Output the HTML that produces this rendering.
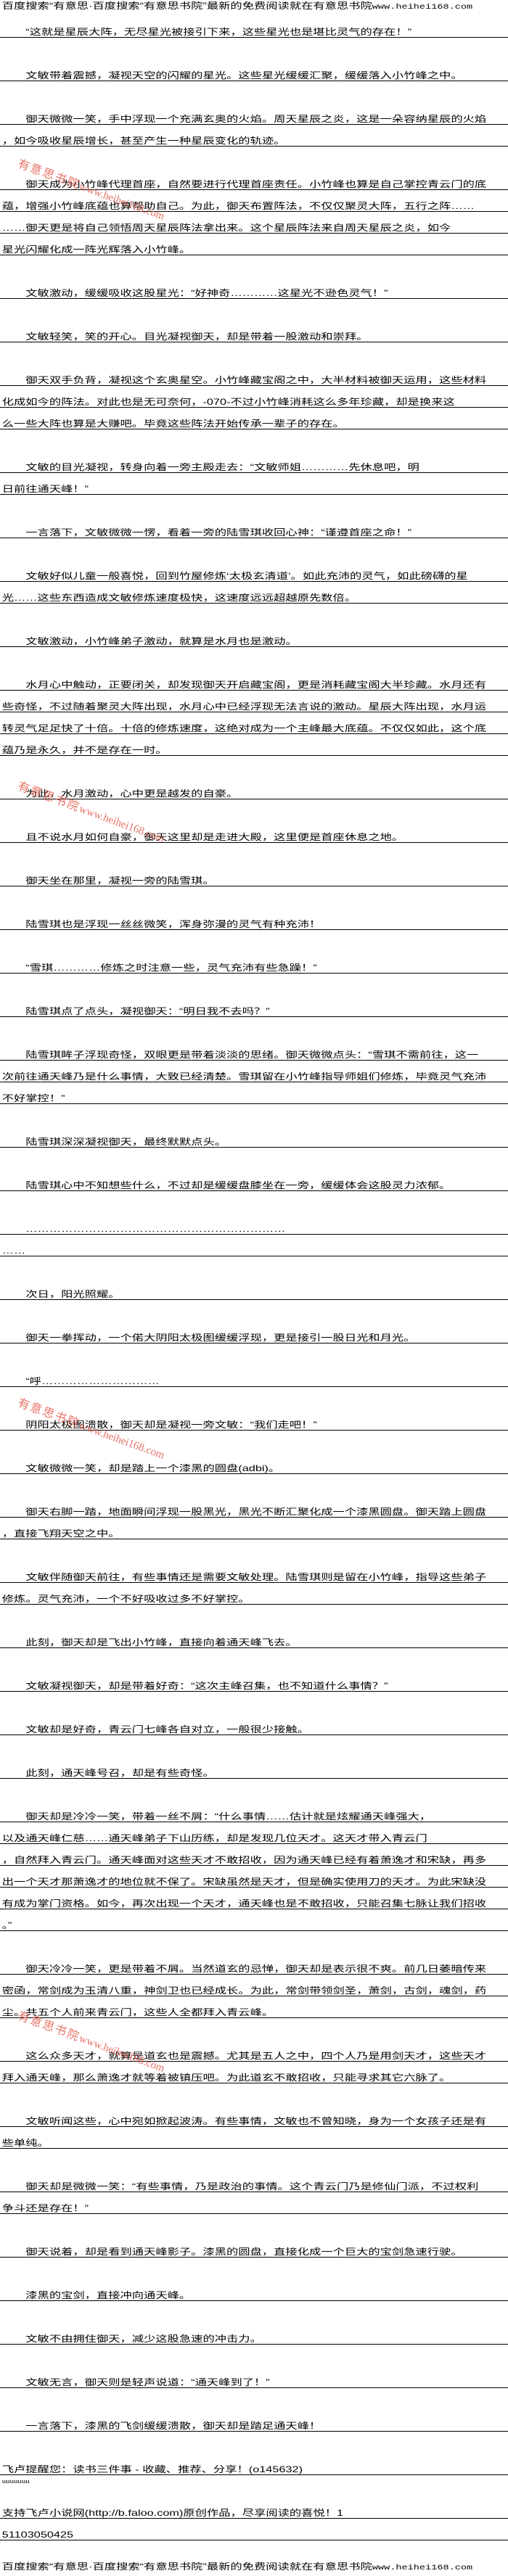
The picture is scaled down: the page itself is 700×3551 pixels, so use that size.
<!DOCTYPE html>
<html><head><meta charset="utf-8">
<style>
html,body{margin:0;padding:0;background:#fff;}
body{width:700px;height:3551px;position:relative;overflow:hidden;}
#w{position:absolute;left:0;top:0;width:516px;height:3551px;transform:scaleX(1.3566);transform-origin:0 0;
font-family:"Liberation Sans","Noto Sans CJK SC","WenQuanYi Zen Hei",sans-serif;font-size:12px;color:#000;}
.r{position:absolute;left:0;width:516px;height:14px;line-height:14px;border-bottom:1px solid #000;white-space:nowrap;padding-left:2px;box-sizing:content-box;}
.i{padding-left:26px;width:492px;}
.h{position:absolute;left:2px;height:14px;line-height:14px;white-space:nowrap;font-size:12px;}
.h span{font-family:"Liberation Mono",monospace;font-size:10px;}
.wm{position:absolute;left:0;transform-origin:0 0;transform:rotate(20deg);color:#e05040;opacity:.8;white-space:nowrap;font-family:"Liberation Serif","Noto Serif CJK SC",serif;font-size:15px;}
.wm b{font-weight:normal;font-family:"Noto Sans CJK SC",sans-serif;font-size:16px;letter-spacing:2px;}
</style></head><body>
<div id="w">
<div class="h" style="top:1px">百度搜索“有意思·百度搜索“有意思书院”最新的免费阅读就在有意思书院<span>www.heihei168.com</span></div>
<div class="r i" style="top:37px">“这就是星辰大阵，无尽星光被接引下来，这些星光也是堪比灵气的存在！”</div>
<div class="r i" style="top:97px">文敏带着震撼，凝视天空的闪耀的星光。这些星光缓缓汇聚，缓缓落入小竹峰之中。</div>
<div class="r i" style="top:157px">御天微微一笑，手中浮现一个充满玄奥的火焰。周天星辰之炎，这是一朵容纳星辰的火焰</div>
<div class="r" style="top:187px">，如今吸收星辰增长，甚至产生一种星辰变化的轨迹。</div>
<div class="r i" style="top:247px">御天成为小竹峰代理首座，自然要进行代理首座责任。小竹峰也算是自己掌控青云门的底</div>
<div class="r" style="top:277px">蕴，增强小竹峰底蕴也算帮助自己。为此，御天布置阵法，不仅仅聚灵大阵，五行之阵……</div>
<div class="r" style="top:307px">……御天更是将自己领悟周天星辰阵法拿出来。这个星辰阵法来自周天星辰之炎，如今</div>
<div class="r" style="top:337px">星光闪耀化成一阵光辉落入小竹峰。</div>
<div class="r i" style="top:397px">文敏激动，缓缓吸收这股星光：“好神奇…………这星光不逊色灵气！”</div>
<div class="r i" style="top:457px">文敏轻笑，笑的开心。目光凝视御天，却是带着一股激动和崇拜。</div>
<div class="r i" style="top:517px">御天双手负背，凝视这个玄奥星空。小竹峰藏宝阁之中，大半材料被御天运用，这些材料</div>
<div class="r" style="top:547px">化成如今的阵法。对此也是无可奈何，-070-不过小竹峰消耗这么多年珍藏，却是换来这</div>
<div class="r" style="top:577px">么一些大阵也算是大赚吧。毕竟这些阵法开始传承一辈子的存在。</div>
<div class="r i" style="top:637px">文敏的目光凝视，转身向着一旁主殿走去：“文敏师姐…………先休息吧，明</div>
<div class="r" style="top:667px">日前往通天峰！”</div>
<div class="r i" style="top:727px">一言落下，文敏微微一愣，看着一旁的陆雪琪收回心神：“谨遵首座之命！”</div>
<div class="r i" style="top:787px">文敏好似儿童一般喜悦，回到竹屋修炼‘太极玄清道’。如此充沛的灵气，如此磅礴的星</div>
<div class="r" style="top:817px">光……这些东西造成文敏修炼速度极快，这速度远远超越原先数倍。</div>
<div class="r i" style="top:877px">文敏激动，小竹峰弟子激动，就算是水月也是激动。</div>
<div class="r i" style="top:937px">水月心中触动，正要闭关，却发现御天开启藏宝阁，更是消耗藏宝阁大半珍藏。水月还有</div>
<div class="r" style="top:967px">些奇怪，不过随着聚灵大阵出现，水月心中已经浮现无法言说的激动。星辰大阵出现，水月运</div>
<div class="r" style="top:997px">转灵气足足快了十倍。十倍的修炼速度，这绝对成为一个主峰最大底蕴。不仅仅如此，这个底</div>
<div class="r" style="top:1027px">蕴乃是永久，并不是存在一时。</div>
<div class="r i" style="top:1087px">为此，水月激动，心中更是越发的自豪。</div>
<div class="r i" style="top:1147px">且不说水月如何自豪，御天这里却是走进大殿，这里便是首座休息之地。</div>
<div class="r i" style="top:1207px">御天坐在那里，凝视一旁的陆雪琪。</div>
<div class="r i" style="top:1267px">陆雪琪也是浮现一丝丝微笑，浑身弥漫的灵气有种充沛！</div>
<div class="r i" style="top:1327px">“雪琪…………修炼之时注意一些，灵气充沛有些急躁！”</div>
<div class="r i" style="top:1387px">陆雪琪点了点头，凝视御天：“明日我不去吗？”</div>
<div class="r i" style="top:1447px">陆雪琪眸子浮现奇怪，双眼更是带着淡淡的思绪。御天微微点头：“雪琪不需前往，这一</div>
<div class="r" style="top:1477px">次前往通天峰乃是什么事情，大致已经清楚。雪琪留在小竹峰指导师姐们修炼，毕竟灵气充沛</div>
<div class="r" style="top:1507px">不好掌控！”</div>
<div class="r i" style="top:1567px">陆雪琪深深凝视御天，最终默默点头。</div>
<div class="r i" style="top:1627px">陆雪琪心中不知想些什么，不过却是缓缓盘膝坐在一旁，缓缓体会这股灵力浓郁。</div>
<div class="r i" style="top:1687px">…………………………………………………………</div>
<div class="r" style="top:1717px">……</div>
<div class="r i" style="top:1777px">次日，阳光照耀。</div>
<div class="r i" style="top:1837px">御天一拳挥动，一个偌大阴阳太极图缓缓浮现，更是接引一股日光和月光。</div>
<div class="r i" style="top:1897px">“呼…………………………</div>
<div class="r i" style="top:1957px">阴阳太极图溃散，御天却是凝视一旁文敏：“我们走吧！”</div>
<div class="r i" style="top:2017px">文敏微微一笑，却是踏上一个漆黑的圆盘(adbi)。</div>
<div class="r i" style="top:2077px">御天右脚一踏，地面瞬间浮现一股黑光，黑光不断汇聚化成一个漆黑圆盘。御天踏上圆盘</div>
<div class="r" style="top:2107px">，直接飞翔天空之中。</div>
<div class="r i" style="top:2167px">文敏伴随御天前往，有些事情还是需要文敏处理。陆雪琪则是留在小竹峰，指导这些弟子</div>
<div class="r" style="top:2197px">修炼。灵气充沛，一个不好吸收过多不好掌控。</div>
<div class="r i" style="top:2257px">此刻，御天却是飞出小竹峰，直接向着通天峰飞去。</div>
<div class="r i" style="top:2317px">文敏凝视御天，却是带着好奇：“这次主峰召集，也不知道什么事情？”</div>
<div class="r i" style="top:2377px">文敏却是好奇，青云门七峰各自对立，一般很少接触。</div>
<div class="r i" style="top:2437px">此刻，通天峰号召，却是有些奇怪。</div>
<div class="r i" style="top:2497px">御天却是冷冷一笑，带着一丝不屑：“什么事情……估计就是炫耀通天峰强大，</div>
<div class="r" style="top:2527px">以及通天峰仁慈……通天峰弟子下山历练，却是发现几位天才。这天才带入青云门</div>
<div class="r" style="top:2557px">，自然拜入青云门。通天峰面对这些天才不敢招收，因为通天峰已经有着萧逸才和宋缺，再多</div>
<div class="r" style="top:2587px">出一个天才那萧逸才的地位就不保了。宋缺虽然是天才，但是确实使用刀的天才。为此宋缺没</div>
<div class="r" style="top:2617px">有成为掌门资格。如今，再次出现一个天才，通天峰也是不敢招收，只能召集七脉让我们招收</div>
<div class="r" style="top:2647px">。”</div>
<div class="r i" style="top:2707px">御天冷冷一笑，更是带着不屑。当然道玄的忌惮，御天却是表示很不爽。前几日萎暗传来</div>
<div class="r" style="top:2737px">密函，常剑成为玉清八重，神剑卫也已经成长。为此，常剑带领剑圣，萧剑，古剑，魂剑，药</div>
<div class="r" style="top:2767px">尘。共五个人前来青云门，这些人全都拜入青云峰。</div>
<div class="r i" style="top:2827px">这么众多天才，就算是道玄也是震撼。尤其是五人之中，四个人乃是用剑天才，这些天才</div>
<div class="r" style="top:2857px">拜入通天峰，那么萧逸才就等着被镇压吧。为此道玄不敢招收，只能寻求其它六脉了。</div>
<div class="r i" style="top:2917px">文敏听闻这些，心中宛如掀起波涛。有些事情，文敏也不曾知晓，身为一个女孩子还是有</div>
<div class="r" style="top:2947px">些单纯。</div>
<div class="r i" style="top:3007px">御天却是微微一笑：“有些事情，乃是政治的事情。这个青云门乃是修仙门派，不过权利</div>
<div class="r" style="top:3037px">争斗还是存在！”</div>
<div class="r i" style="top:3097px">御天说着，却是看到通天峰影子。漆黑的圆盘，直接化成一个巨大的宝剑急速行驶。</div>
<div class="r i" style="top:3157px">漆黑的宝剑，直接冲向通天峰。</div>
<div class="r i" style="top:3217px">文敏不由拥住御天，减少这股急速的冲击力。</div>
<div class="r i" style="top:3277px">文敏无言，御天则是轻声说道：“通天峰到了！”</div>
<div class="r i" style="top:3337px">一言落下，漆黑的飞剑缓缓溃散，御天却是踏足通天峰！</div>
<div class="r" style="top:3397px">飞卢提醒您：读书三件事 - 收藏、推荐、分享！(o145632)</div>
<div class="h" style="top:3414px;font-size:8px;font-family:'Liberation Serif',serif;">uuuuuuu</div>
<div class="r" style="top:3457px">支持飞卢小说网(http://b.faloo.com)原创作品，尽享阅读的喜悦！1</div>
<div class="r" style="top:3487px">51103050425</div>
<div class="h" style="top:3531px">百度搜索“有意思·百度搜索“有意思书院”最新的免费阅读就在有意思书院<span>www.heihei168.com</span></div>
</div>
<div class="wm" style="top:212px;left:30px"><b>有意思书院</b>www.heihei168.com</div>
<div class="wm" style="top:1070px;left:30px"><b>有意思书院</b>www.heihei168.com</div>
<div class="wm" style="top:1920px;left:30px"><b>有意思书院</b>www.heihei168.com</div>
<div class="wm" style="top:2765px;left:30px"><b>有意思书院</b>www.heihei168.com</div>
</body></html>
